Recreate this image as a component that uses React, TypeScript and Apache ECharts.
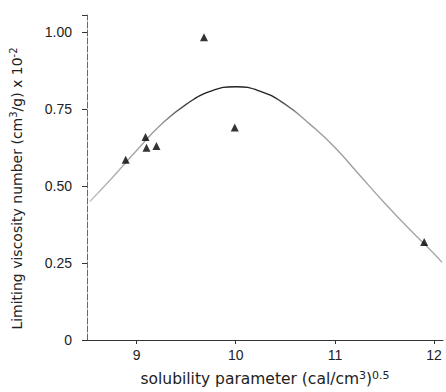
import React, { useEffect, useRef } from "react";
import * as echarts from "echarts";

const pointsX = [8.89, 9.09, 9.1, 9.2, 9.68, 9.99, 11.9];
const pointsY = [0.585, 0.659, 0.624, 0.63, 0.983, 0.69, 0.318];

const curveX = [8.53, 8.75, 9.0, 9.25, 9.5, 9.75, 10.0, 10.25, 10.5, 10.75, 11.0, 11.25, 11.5, 11.75, 12.0, 12.08];
const curveY = [0.45, 0.525, 0.615, 0.7, 0.765, 0.808, 0.822, 0.807, 0.765, 0.7, 0.625, 0.535, 0.445, 0.36, 0.28, 0.252];

const xTicks = [9, 10, 11, 12];
const yTicks = [0, 0.25, 0.5, 0.75, 1.0];

const font = "'Liberation Sans', Arial, sans-serif";
const nameFont = "'DejaVu Sans', sans-serif";

export default function App() {
  const ref = useRef<HTMLDivElement>(null);
  useEffect(() => {
    if (!ref.current) return;
    const chart = echarts.init(ref.current, undefined, { renderer: "svg" });
    chart.setOption({
      animation: false,
      backgroundColor: "#fff",
      grid: { left: 86, right: 3, top: 15, bottom: 49 },
      xAxis: {
        type: "value",
        min: 8.5,
        max: 12.09,
        splitLine: { show: false },
        axisLine: { lineStyle: { color: "#333", width: 1 } },
        axisTick: { customValues: xTicks, length: 4, lineStyle: { color: "#333" } },
        axisLabel: {
          customValues: xTicks,
          color: "#222",
          fontSize: 14,
          fontFamily: font,
          margin: 8,
        },
        name: "solubility parameter (cal/cm{sup|3}){sup|0.5}",
        nameLocation: "middle",
        nameGap: 30,
        nameTextStyle: {
          color: "#222",
          fontSize: 15.5,
          fontFamily: nameFont,
          rich: {
            sup: { fontSize: 11, verticalAlign: "top", padding: [0, 0, 7, 0], fontFamily: nameFont, color: "#222" },
          },
        },
      },
      yAxis: {
        type: "value",
        min: 0,
        max: 1.055,
        interval: 0.25,
        splitLine: { show: false },
        axisLine: { show: true, lineStyle: { color: "#666", width: 1, type: [6, 2] } },
        axisTick: { show: true, length: 5, lineStyle: { color: "#333" } },
        axisLabel: {
          color: "#222",
          fontSize: 14,
          fontFamily: font,
          margin: 15,
          formatter: (v: number) => (yTicks.includes(v) ? (v === 0 ? "0" : v.toFixed(2)) : ""),
        },
        name: "Limiting viscosity number (cm{sup|3}/g) x 10{sup|-2}",
        nameLocation: "middle",
        nameGap: 62,
        nameTextStyle: {
          color: "#222",
          fontSize: 14,
          fontFamily: nameFont,
          padding: [0, 22, 0, 0],
          rich: {
            sup: { fontSize: 10, verticalAlign: "top", padding: [0, 0, 7, 0], fontFamily: nameFont, color: "#222" },
          },
        },
      },
      series: [
        {
          type: "line",
          data: curveX.map((x, i) => [x, curveY[i]]),
          smooth: true,
          showSymbol: false,
          lineStyle: {
            width: 1.4,
            color: new echarts.graphic.LinearGradient(0, 0, 1, 0, [
              { offset: 0, color: "#bbb" },
              { offset: 0.2, color: "#999" },
              { offset: 0.3, color: "#222" },
              { offset: 0.52, color: "#222" },
              { offset: 0.6, color: "#999" },
              { offset: 1, color: "#aaa" },
            ]),
          },
          z: 1,
        },
        {
          type: "scatter",
          data: pointsX.map((x, i) => [x, pointsY[i]]),
          symbol: "triangle",
          symbolSize: 8,
          itemStyle: { color: "#000" },
          z: 3,
        },
      ],
    });
    return () => chart.dispose();
  }, []);
  return (
    <div
      ref={ref}
      style={{ position: "fixed", left: 0, top: 0, width: 446, height: 392, background: "#fff" }}
    />
  );
}
